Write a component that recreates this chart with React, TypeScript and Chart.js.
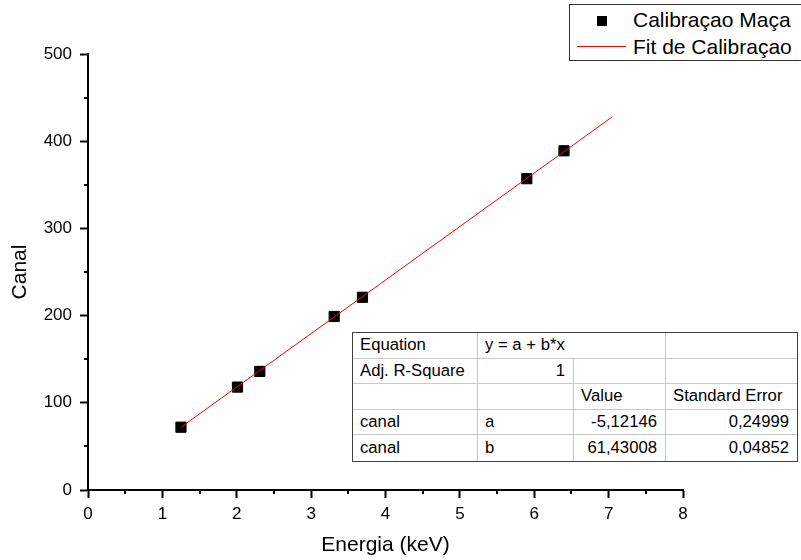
import React, { useEffect, useRef } from "react";
import { Chart, registerables } from "chart.js";

Chart.register(...registerables);

// Data
const energies = [1.25, 2.01, 2.31, 3.31, 3.69, 5.9, 6.4];
const canal = [72, 118, 136, 199, 221, 357, 389];
const fitX = [1.25, 7.05];
const fitY = [72, 428];

const xMajorTicks = [0, 1, 2, 3, 4, 5, 6, 7, 8];
const xMinorTicks = [0.5, 1.5, 2.5, 3.5, 4.5, 5.5, 6.5, 7.5];
const yMajorTicks = [0, 100, 200, 300, 400, 500];
const yMinorTicks = [50, 150, 250, 350, 450];

const seriesLabels = ["Calibraçao Maça", "Fit de Calibraçao"];
const axisTitles = { x: "Energia (keV)", y: "Canal" };

const tableRows: string[][] = [
  ["Equation", "y = a + b*x", "", ""],
  ["Adj. R-Square", "1", "", ""],
  ["", "", "Value", "Standard Error"],
  ["canal", "a", "-5,12146", "0,24999"],
  ["canal", "b", "61,43008", "0,04852"],
];

const FONT = "Arial, 'Liberation Sans', sans-serif";

const minorTicksPlugin = {
  id: "minorTicks",
  afterDraw(chart: any) {
    const { ctx, chartArea, scales } = chart;
    ctx.save();
    ctx.strokeStyle = "#000";
    ctx.lineWidth = 2;
    ctx.beginPath();
    for (const v of xMinorTicks) {
      const px = Math.round(scales.x.getPixelForValue(v));
      ctx.moveTo(px, chartArea.bottom);
      ctx.lineTo(px, chartArea.bottom + 4);
    }
    for (const v of yMinorTicks) {
      const py = Math.round(scales.y.getPixelForValue(v));
      ctx.moveTo(chartArea.left, py);
      ctx.lineTo(chartArea.left - 4, py);
    }
    ctx.stroke();
    ctx.restore();
  },
};

export default function App() {
  const canvasRef = useRef<HTMLCanvasElement | null>(null);

  useEffect(() => {
    const canvas = canvasRef.current;
    if (!canvas) return;
    const chart = new Chart(canvas, {
      type: "scatter",
      data: {
        datasets: [
          {
            label: seriesLabels[1],
            data: fitX.map((x, i) => ({ x, y: fitY[i] })),
            showLine: true,
            borderColor: "#ff0000",
            borderWidth: 1,
            pointRadius: 0,
            order: 0,
          },
          {
            label: seriesLabels[0],
            data: energies.map((x, i) => ({ x, y: canal[i] })),
            pointStyle: "rect",
            pointRadius: 7.2,
            backgroundColor: "#000",
            borderColor: "#000",
            borderWidth: 1,
            order: 1,
          },
        ],
      },
      options: {
        responsive: false,
        animation: false,
        layout: { padding: { left: 0, right: 118, top: 54, bottom: 0 } },
        plugins: {
          legend: { display: false },
          tooltip: { enabled: false },
        },
        scales: {
          x: {
            type: "linear",
            min: 0,
            max: 8,
            afterFit: (s: any) => {
              s.height = 70;
            },
            afterBuildTicks: (s: any) => {
              s.ticks = xMajorTicks.map((v) => ({ value: v }));
            },
            ticks: {
              color: "#000",
              font: { family: FONT, size: 17 },
              padding: 6,
              maxRotation: 0,
            },
            grid: {
              drawOnChartArea: false,
              drawTicks: true,
              tickLength: 8,
              tickColor: "#000",
              tickWidth: 2,
            },
            border: { display: true, color: "#000", width: 2 },
            title: {
              display: true,
              text: axisTitles.x,
              color: "#000",
              font: { family: FONT, size: 21 },
              padding: { top: 0, bottom: 2 },
            },
          },
          y: {
            type: "linear",
            min: 0,
            max: 500,
            afterFit: (s: any) => {
              s.width = 88;
            },
            afterBuildTicks: (s: any) => {
              s.ticks = yMajorTicks.map((v) => ({ value: v }));
            },
            ticks: {
              color: "#000",
              font: { family: FONT, size: 17 },
              padding: 8,
            },
            grid: {
              drawOnChartArea: false,
              drawTicks: true,
              tickLength: 8,
              tickColor: "#000",
              tickWidth: 2,
            },
            border: { display: true, color: "#000", width: 2 },
            title: {
              display: true,
              text: axisTitles.y,
              color: "#000",
              font: { family: FONT, size: 21 },
              padding: { top: 8, bottom: 0 },
            },
          },
        },
      },
      plugins: [minorTicksPlugin],
    } as any);
    return () => chart.destroy();
  }, []);

  const colW = [125, 96, 92, 131];
  const rowH = 25.6;
  const colLeft = colW.map((_, i) => colW.slice(0, i).reduce((a, b) => a + b, 0));

  const cells: React.ReactNode[] = [];
  tableRows.forEach((row, r) => {
    let c = 0;
    while (c < row.length) {
      let span = 1;
      if (r === 0 && c === 1) span = 2;
      const width = colW.slice(c, c + span).reduce((a, b) => a + b, 0);
      const text = row[c];
      const rightAlign = (r === 1 && c === 1) || (r >= 3 && c >= 2);
      cells.push(
        <div
          key={`${r}-${c}`}
          style={{
            position: "absolute",
            left: colLeft[c],
            top: r * rowH,
            width,
            height: rowH,
            boxSizing: "border-box",
            borderRight: c + span < row.length ? "1px solid #c8c8c8" : "none",
            borderBottom: r < tableRows.length - 1 ? "1px solid #c8c8c8" : "none",
            padding: "0 8px 0 7px",
            display: "flex",
            alignItems: "center",
            justifyContent: rightAlign ? "flex-end" : "flex-start",
            fontFamily: FONT,
            fontSize: 16.7,
            color: "#000",
            whiteSpace: "nowrap",
          }}
        >
          {text}
        </div>
      );
      c += span;
    }
  });

  return (
    <div
      style={{
        position: "absolute",
        left: 0,
        top: 0,
        width: 801,
        height: 560,
        overflow: "hidden",
        background: "#fff",
      }}
    >
      <canvas ref={canvasRef} width={801} height={560} style={{ display: "block" }} />
      {/* Legend */}
      <div
        style={{
          position: "absolute",
          left: 569,
          top: 4,
          width: 250,
          height: 57,
          boxSizing: "border-box",
          border: "1px solid #333",
          background: "#fff",
          fontFamily: FONT,
          fontSize: 21,
          color: "#000",
        }}
      >
        <div style={{ position: "absolute", left: 27, top: 11, width: 10, height: 10, background: "#000" }} />
        <div style={{ position: "absolute", left: 63, top: 3, lineHeight: "23px", whiteSpace: "nowrap" }}>
          {seriesLabels[0]}
        </div>
        <div style={{ position: "absolute", left: 7, top: 41, width: 49, height: 1, background: "#ff0000" }} />
        <div style={{ position: "absolute", left: 63, top: 30, lineHeight: "23px", whiteSpace: "nowrap" }}>
          {seriesLabels[1]}
        </div>
      </div>
      {/* Fit table */}
      <div
        style={{
          position: "absolute",
          left: 352,
          top: 332,
          width: 446,
          height: 130,
          boxSizing: "border-box",
          border: "1px solid #404040",
          background: "#fff",
        }}
      >
        {cells}
      </div>
    </div>
  );
}
